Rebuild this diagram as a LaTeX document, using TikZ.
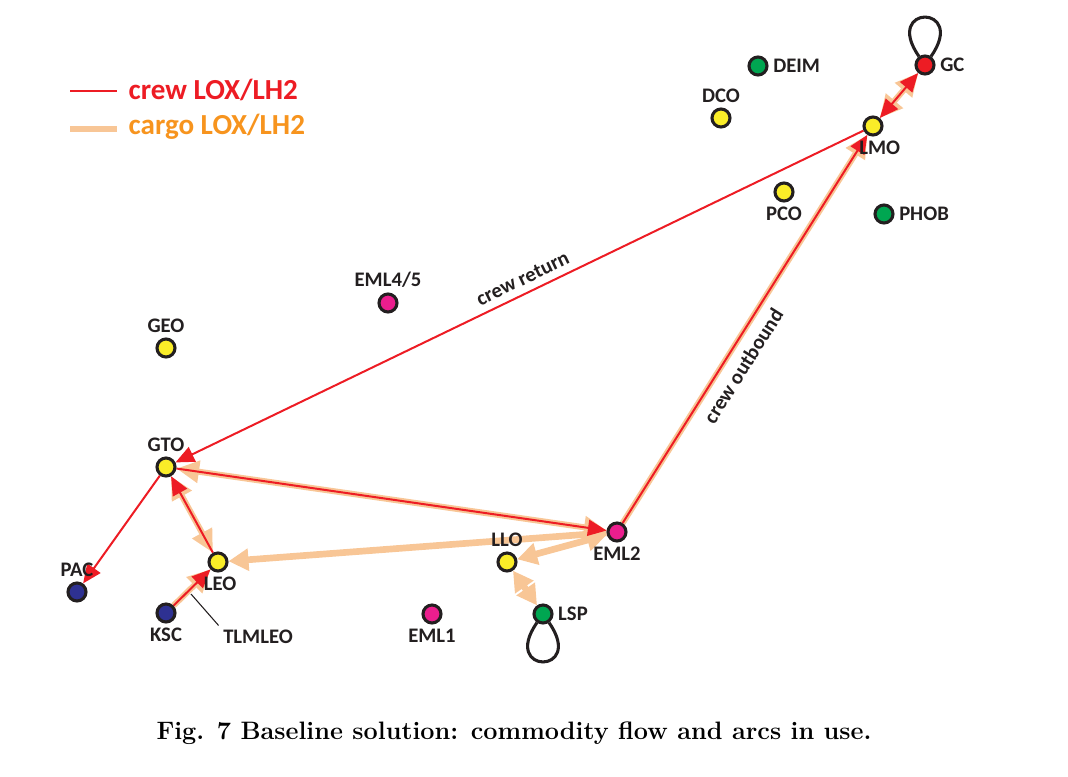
\documentclass[tikz,border=0pt]{standalone}
\usepackage{fontspec}
\newfontfamily\lblfont{Carlito}
\usetikzlibrary{arrows.meta}
\pgfdeclarelayer{edges}
\pgfsetlayers{edges,main}
\definecolor{crewred}{RGB}{237,28,36}
\definecolor{cargopeach}{RGB}{248,198,150}
\definecolor{cargotext}{RGB}{247,148,30}
\definecolor{stnyellow}{RGB}{250,237,40}
\definecolor{stnmagenta}{RGB}{236,30,142}
\definecolor{stngreen}{RGB}{0,166,81}
\definecolor{stnblue}{RGB}{46,49,146}
\definecolor{stnred}{RGB}{237,28,36}
\definecolor{lblgray}{RGB}{35,31,32}

\begin{document}
\begin{tikzpicture}[x=0.75pt,y=0.75pt,
  lbl/.style={font=\lblfont\bfseries\fontsize{15.5}{17}\selectfont,text=lblgray},
  every label/.style={lbl},
  station/.style={circle,draw=lblgray,line width=2.3pt,minimum size=13.5pt,inner sep=0pt,label distance=0.5pt},
  crew/.style={draw=crewred,line width=1.5pt,>={Triangle[length=14pt,width=12pt]}},
  halo/.style={draw=cargopeach,line width=4.5pt,>={Triangle[length=17pt,width=16pt]}},
  cargo/.style={draw=cargopeach,line width=5pt,>={Triangle[length=15pt,width=16pt]}},
  loopline/.style={draw=lblgray,line width=2.3pt},
  key/.style={font=\lblfont\bfseries\fontsize{21.8}{24}\selectfont,anchor=west}]
\useasboundingbox (0,0) rectangle (1068,-776);

\node[station,fill=stnred,label=right:GC] (GC) at (925,-65) {};
\node[station,fill=stngreen,label=right:DEIM] (DEIM) at (758,-66) {};
\node[station,fill=stnyellow,label=above:DCO] (DCO) at (721,-118) {};
\node[station,fill=stnyellow,label={[xshift=5pt]below:LMO}] (LMO) at (873,-126) {};
\node[station,fill=stnyellow,label=below:PCO] (PCO) at (784,-192) {};
\node[station,fill=stngreen,label=right:PHOB] (PHOB) at (884,-214) {};
\node[station,fill=stnmagenta,label=above:EML4/5] (EML45) at (388,-303) {};
\node[station,fill=stnyellow,label=above:GEO] (GEO) at (166,-348) {};
\node[station,fill=stnyellow,label=above:GTO] (GTO) at (166,-467) {};
\node[station,fill=stnmagenta,label=below:EML2] (EML2) at (617,-532) {};
\node[station,fill=stnyellow,label=above:LLO] (LLO) at (507,-562) {};
\node[station,fill=stnyellow,label={[xshift=1.5pt]below:LEO}] (LEO) at (218,-562) {};
\node[station,fill=stnblue,label=above:PAC] (PAC) at (77,-592) {};
\node[station,fill=stnblue,label=below:KSC] (KSC) at (166,-613) {};
\node[station,fill=stngreen,label=right:LSP] (LSP) at (543,-614) {};
\node[station,fill=stnmagenta,label=below:EML1] (EML1) at (432,-614) {};

\begin{pgfonlayer}{edges}
\draw[loopline] (GC) to[out=125,in=55,distance=48pt] (GC);
\draw[loopline] (LSP) to[out=-125,in=-55,distance=48pt] (LSP);

\draw[halo,<->] (GTO) -- (EML2);
\draw[halo,<->] (LEO) -- (GTO);
\draw[halo,->] (KSC) -- (LEO);
\draw[halo,->] (EML2) -- (LMO);
\draw[halo,<->] (LMO) -- (GC);
\draw[cargo,->] (EML2) -- (LEO);
\draw[cargo,<->] (LLO) -- (EML2);
\draw[cargo,<->] (LLO) -- (LSP);

\draw[crew,<-] (GTO) -- (LMO) node[lbl,pos=0.514,sloped,above=2pt] {crew return};
\draw[crew,->] (EML2) -- (LMO) node[lbl,pos=0.43,sloped,below=4pt] {crew outbound};
\draw[crew,->] (GTO) -- (EML2);
\draw[crew,->] (LEO) -- (GTO);
\draw[crew,->] (KSC) -- (LEO);
\draw[crew,<->] (LMO) -- (GC);
\draw[crew,->] (GTO) -- (PAC);
\end{pgfonlayer}

\node[lbl] (tlmleo) at (258,-637) {TLMLEO};
\coordinate (tlmfoot) at (191,-594);
\draw[lblgray,line width=0.8pt] (tlmfoot) -- (tlmleo.north west);

\coordinate (crewkeyA) at (70,-91);
\coordinate (crewkeyB) at (117,-91);
\coordinate (cargokeyA) at (70,-129);
\coordinate (cargokeyB) at (117,-129);
\draw[crew] (crewkeyA) -- (crewkeyB);
\draw[draw=cargopeach,line width=3.8pt] (cargokeyA) -- (cargokeyB);
\node[key,text=crewred] (crewkey) at (124,-90) {crew LOX/LH2};
\node[key,text=cargotext] (cargokey) at (124,-127) {cargo LOX/LH2};

\node[font=\bfseries\fontsize{18.9}{22}\selectfont] (caption) at (514,-733) {Fig. 7 Baseline solution: commodity flow and arcs in use.};
\end{tikzpicture}
\end{document}
